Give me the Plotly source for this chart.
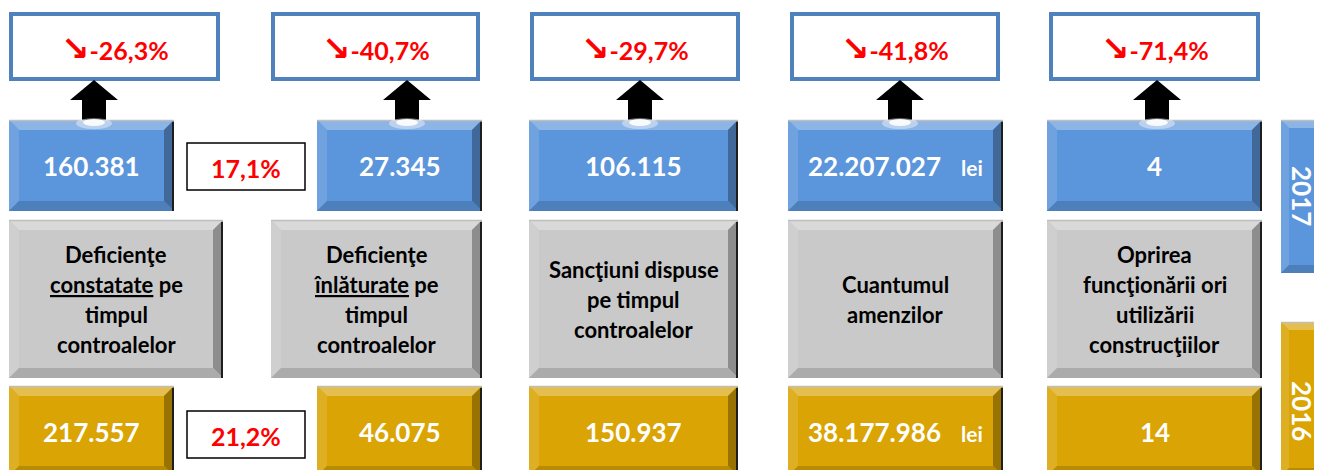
import plotly.graph_objects as go

# ---------------- data ----------------
categories = [
    ["Deficienţe", "<span style='text-decoration:underline'>constatate</span> pe", "timpul", "controalelor"],
    ["Deficienţe", "<span style='text-decoration:underline'>înlăturate</span> pe", "timpul", "controalelor"],
    ["Sancţiuni dispuse", "pe timpul", "controalelor"],
    ["Cuantumul", "amenzilor"],
    ["Oprirea", "funcţionării ori", "utilizării", "construcţiilor"],
]
values_2017 = [160381, 27345, 106115, 22207027, 4]
values_2016 = [217557, 46075, 150937, 38177986, 14]
units = ["", "", "", "lei", ""]
changes = [-26.3, -40.7, -29.7, -41.8, -71.4]
ratio_2017 = 17.1
ratio_2016 = 21.2
years = ["2017", "2016"]

# ---------------- layout geometry ----------------
W, H = 1322, 470
PAGE_MARGIN = 8  # default body margin of the html page
top_x = [(11, 218), (273, 478), (532, 738), (792, 998), (1051, 1258)]
blue_x = [(9, 174), (317, 482), (529, 738), (788, 1003), (1047, 1262)]
gray_x = [(9, 223), (271, 482), (529, 738), (788, 1003), (1047, 1262)]
arrow_cx = [94, 407, 640, 900, 1157]
TOP_Y = (14, 79)
BLUE_Y = (120, 211)
GRAY_Y = (220, 378)
GOLD_Y = (386, 476)
RATIO_X = (187, 305)
RATIO_Y = [(143, 190), (411, 458)]
YEAR_X = (1281, 1326)
YEAR_Y = [(120, 273), (322, 476)]

BLUE = (91, 149, 219)
GRAY = (201, 201, 201)
GOLD = (217, 164, 4)
FONT = "Lato, 'Open Sans', 'DejaVu Sans', sans-serif"
ARROW_GLYPH = "<span style='font-family:DejaVu Sans;font-size:34px'>↘</span>"


def mix(c, t, f):
    return "rgb(%d,%d,%d)" % tuple(round(a + (b - a) * f) for a, b in zip(c, t))


def fmt_int(v):
    return f"{v:,}".replace(",", ".")


def fmt_pct(v):
    return f"{v:.1f}".replace(".", ",") + "%"


shapes = []
annotations = []


def bevel(x0, x1, y0, y1, base, b=10):
    shapes.append(dict(type="rect", x0=x0, x1=x1, y0=y0, y1=y1,
                       fillcolor=mix(base, base, 0), line=dict(width=0), layer="above"))
    polys = [
        ([(x0, y0), (x1, y0), (x1 - b, y0 + b), (x0 + b, y0 + b)], mix(base, (255, 255, 255), 0.3)),
        ([(x0, y0), (x0 + b, y0 + b), (x0 + b, y1 - b), (x0, y1)], mix(base, (255, 255, 255), 0.12)),
        ([(x1, y0), (x1, y1), (x1 - b, y1 - b), (x1 - b, y0 + b)], mix(base, (0, 0, 0), 0.3)),
        ([(x0, y1), (x1, y1), (x1 - b, y1 - b), (x0 + b, y1 - b)], mix(base, (0, 0, 0), 0.15)),
    ]
    for pts, col in polys:
        p = "M " + " L ".join(f"{x},{y}" for x, y in pts) + " Z"
        shapes.append(dict(type="path", path=p, fillcolor=col, line=dict(width=0), layer="above"))
    shapes.append(dict(type="line", x0=x0, x1=x1, y0=y0 + 0.5, y1=y0 + 0.5,
                       line=dict(color="rgb(190,190,190)", width=1.5), layer="above"))
    shapes.append(dict(type="line", x0=x1 - 1, x1=x1 - 1, y0=y0 + 2, y1=y1,
                       line=dict(color="rgb(30,30,30)", width=2), layer="above"))


def text(x, y, s, size, color, angle=0):
    annotations.append(dict(x=x, y=y, xref="x", yref="y", text=s, showarrow=False,
                            textangle=angle, xanchor="center", yanchor="middle",
                            font=dict(family=FONT, size=size, color=color)))


for i in range(len(categories)):
    # change box at the top
    tx0, tx1 = top_x[i]
    shapes.append(dict(type="rect", x0=tx0, x1=tx1, y0=TOP_Y[0], y1=TOP_Y[1],
                       fillcolor="white", line=dict(color="#4F81BD", width=4), layer="above"))
    text((tx0 + tx1) / 2, (TOP_Y[0] + TOP_Y[1]) / 2 + 1,
         "<b>" + ARROW_GLYPH + fmt_pct(changes[i]) + "</b>", 25, "#FF0000")

    # arrow
    cx = arrow_cx[i]
    ah = TOP_Y[1] + 21
    p = (f"M {cx - 24},{ah} L {cx},{TOP_Y[1] + 1} L {cx + 24},{ah} L {cx + 12},{ah} "
         f"L {cx + 12},{BLUE_Y[0]} L {cx - 12},{BLUE_Y[0]} L {cx - 12},{ah} Z")
    shapes.append(dict(type="path", path=p, fillcolor="black", line=dict(width=0), layer="above"))

    # 2017 value
    bx0, bx1 = blue_x[i]
    bevel(bx0, bx1, BLUE_Y[0], BLUE_Y[1], BLUE)
    shapes.append(dict(type="circle", x0=cx - 18, x1=cx + 18, y0=BLUE_Y[0] - 2, y1=BLUE_Y[0] + 9,
                       fillcolor="rgba(255,255,255,0.4)", line=dict(width=0), layer="above"))
    shapes.append(dict(type="circle", x0=cx - 11, x1=cx + 11, y0=BLUE_Y[0] - 1, y1=BLUE_Y[0] + 6,
                       fillcolor="rgba(255,255,255,0.9)", line=dict(width=0), layer="above"))
    u = units[i]
    s17 = "<b>" + fmt_int(values_2017[i]) + "</b>"
    s16 = "<b>" + fmt_int(values_2016[i]) + "</b>"
    if u:
        s17 += "\u00a0\u00a0\u00a0<b><span style='font-size:21px'>" + u + "</span></b>"
        s16 += "\u00a0\u00a0\u00a0<b><span style='font-size:21px'>" + u + "</span></b>"
    text((bx0 + bx1) / 2, 166, s17, 26, "white")

    # category label
    gx0, gx1 = gray_x[i]
    bevel(gx0, gx1, GRAY_Y[0], GRAY_Y[1], GRAY)
    lines = categories[i]
    n = len(lines)
    yc = (GRAY_Y[0] + GRAY_Y[1]) / 2 + 0.5
    for k, ln in enumerate(lines):
        text((gx0 + gx1) / 2, yc + (k - (n - 1) / 2) * 29.7, "<b>" + ln + "</b>", 22, "black")

    # 2016 value
    bevel(bx0, bx1, GOLD_Y[0], GOLD_Y[1], GOLD)
    text((bx0 + bx1) / 2, 432, s16, 26, "white")

# ratio boxes
for (ry0, ry1), r in zip(RATIO_Y, [ratio_2017, ratio_2016]):
    shapes.append(dict(type="rect", x0=RATIO_X[0], x1=RATIO_X[1], y0=ry0, y1=ry1,
                       fillcolor="white", line=dict(color="black", width=1.5), layer="above"))
    text((RATIO_X[0] + RATIO_X[1]) / 2, (ry0 + ry1) / 2 + 1, "<b>" + fmt_pct(r) + "</b>", 25, "#FF0000")

# year tabs
for (yy0, yy1), yr, col, yc in zip(YEAR_Y, years, [BLUE, GOLD], [196, 411]):
    bevel(YEAR_X[0], YEAR_X[1], yy0, yy1, col, b=8)
    text(1302, yc, "<b>" + yr + "</b>", 26, "white", angle=90)

fig = go.Figure()
fig.update_layout(
    width=W - PAGE_MARGIN, height=H - PAGE_MARGIN,
    margin=dict(l=0, r=0, t=0, b=0),
    paper_bgcolor="white", plot_bgcolor="white",
    xaxis=dict(range=[PAGE_MARGIN, W], visible=False, fixedrange=True),
    yaxis=dict(range=[H, PAGE_MARGIN], visible=False, fixedrange=True),
    shapes=shapes, annotations=annotations, showlegend=False,
)
fig.write_html("out.html", config=dict(displayModeBar=False))
